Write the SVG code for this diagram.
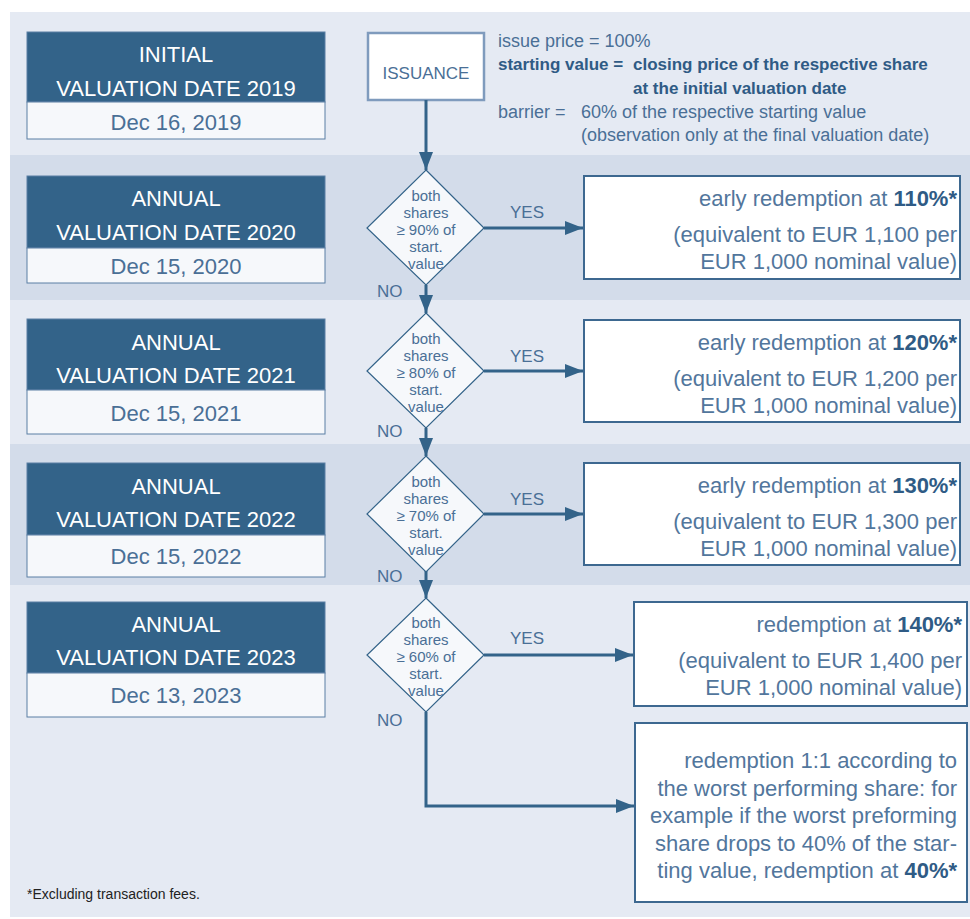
<svg xmlns="http://www.w3.org/2000/svg" width="970" height="919" viewBox="0 0 970 919">
<defs>
<marker id="ah" markerUnits="userSpaceOnUse" markerWidth="18" markerHeight="14" refX="18" refY="7" orient="auto">
<path d="M0,0 L18,7 L0,14 z" fill="#336389"/>
</marker>
<style>
text{font-family:"Liberation Sans",Arial,sans-serif}
.hd{fill:#336389;stroke:#5b7fa4;stroke-width:1}
.dt{fill:#f6f8fb;stroke:#5b7fa4;stroke-width:1}
.ht{fill:#ffffff;font-size:22px;text-anchor:middle}
.dd{fill:#4a6f96;font-size:22px;text-anchor:middle}
.dia{fill:#f6f8fb;stroke:#336389;stroke-width:1.2}
.dtx{fill:#4a6f96;font-size:15px;text-anchor:middle}
.lbl{fill:#4a6f96;font-size:17px}
.rb{fill:#ffffff;stroke:#3d6890;stroke-width:2}
.rt{fill:#52769c;font-size:22px;text-anchor:end}
.b{font-weight:bold;fill:#2f5b85}
.conn{fill:none;stroke:#336389;stroke-width:3;marker-end:url(#ah)}
.info{fill:#4a6f96;font-size:18px}
.infob{fill:#2f5b85;font-size:17px;font-weight:bold}
</style>
</defs>
<rect x="0" y="0" width="970" height="919" fill="#ffffff"/>
<g id="bands">
<rect x="10" y="12" width="960" height="143" fill="#e5eaf3"/>
<rect x="10" y="155" width="960" height="145" fill="#d3dcea"/>
<rect x="10" y="300" width="960" height="144" fill="#e5eaf3"/>
<rect x="10" y="444" width="960" height="141" fill="#d3dcea"/>
<rect x="10" y="585" width="960" height="332" fill="#e5eaf3"/>
</g>

<g id="date2019">
<rect class="hd" x="27" y="32" width="298" height="70"/>
<rect class="dt" x="27" y="102" width="298" height="37"/>
<text class="ht" x="176" y="62">INITIAL</text>
<text class="ht" x="176" y="96">VALUATION DATE 2019</text>
<text class="dd" x="176" y="130">Dec 16, 2019</text>
</g>
<g id="date2020">
<rect class="hd" x="27" y="176" width="298" height="72"/>
<rect class="dt" x="27" y="248" width="298" height="35"/>
<text class="ht" x="176" y="206">ANNUAL</text>
<text class="ht" x="176" y="240">VALUATION DATE 2020</text>
<text class="dd" x="176" y="274">Dec 15, 2020</text>
</g>
<g id="date2021">
<rect class="hd" x="27" y="319" width="298" height="71"/>
<rect class="dt" x="27" y="390" width="298" height="44"/>
<text class="ht" x="176" y="350">ANNUAL</text>
<text class="ht" x="176" y="383">VALUATION DATE 2021</text>
<text class="dd" x="176" y="421">Dec 15, 2021</text>
</g>
<g id="date2022">
<rect class="hd" x="27" y="463" width="298" height="72"/>
<rect class="dt" x="27" y="535" width="298" height="42"/>
<text class="ht" x="176" y="494">ANNUAL</text>
<text class="ht" x="176" y="527">VALUATION DATE 2022</text>
<text class="dd" x="176" y="564">Dec 15, 2022</text>
</g>
<g id="date2023">
<rect class="hd" x="27" y="602" width="298" height="71"/>
<rect class="dt" x="27" y="673" width="298" height="44"/>
<text class="ht" x="176" y="632">ANNUAL</text>
<text class="ht" x="176" y="665">VALUATION DATE 2023</text>
<text class="dd" x="176" y="703">Dec 13, 2023</text>
</g>

<g id="issuance">
<rect x="368" y="33" width="116" height="67" fill="#ffffff" stroke="#7f9bbd" stroke-width="2.5"/>
<text class="lbl" x="426" y="79" text-anchor="middle">ISSUANCE</text>
</g>

<g id="terms">
<text class="info" x="498" y="47">issue price = 100%</text>
<text class="infob" x="498" y="70">starting value =</text>
<text class="infob" x="633" y="70">closing price of the respective share</text>
<text class="infob" x="633" y="94">at the initial valuation date</text>
<text class="info" x="498" y="118">barrier =</text>
<text class="info" x="581" y="118">60% of the respective starting value</text>
<text class="info" x="581" y="141">(observation only at the final valuation date)</text>
</g>

<g id="connectors">
<path class="conn" d="M426,100 V170"/>
<path class="conn" d="M484,228 H583"/>
<path class="conn" d="M426,285 V313"/>
<path class="conn" d="M484,371 H583"/>
<path class="conn" d="M426,428 V456"/>
<path class="conn" d="M484,514 H583"/>
<path class="conn" d="M426,571 V598"/>
<path class="conn" d="M484,655 H633"/>
<path class="conn" d="M426,712 V806 H634"/>
<text class="lbl" x="510" y="218">YES</text>
<text class="lbl" x="377" y="297">NO</text>
<text class="lbl" x="510" y="362">YES</text>
<text class="lbl" x="377" y="437">NO</text>
<text class="lbl" x="510" y="505">YES</text>
<text class="lbl" x="377" y="582">NO</text>
<text class="lbl" x="510" y="644">YES</text>
<text class="lbl" x="377" y="726">NO</text>
</g>

<g id="cond90">
<polygon class="dia" points="426,170 484,228 426,285 367,228"/>
<text class="dtx" x="426" y="201">both</text>
<text class="dtx" x="426" y="218">shares</text>
<text class="dtx" x="426" y="235">≥ 90% of</text>
<text class="dtx" x="426" y="252">start.</text>
<text class="dtx" x="426" y="269">value</text>
</g>
<g id="cond80">
<polygon class="dia" points="426,313 484,371 426,428 367,371"/>
<text class="dtx" x="426" y="344">both</text>
<text class="dtx" x="426" y="361">shares</text>
<text class="dtx" x="426" y="378">≥ 80% of</text>
<text class="dtx" x="426" y="395">start.</text>
<text class="dtx" x="426" y="412">value</text>
</g>
<g id="cond70">
<polygon class="dia" points="426,456 484,514 426,572 367,514"/>
<text class="dtx" x="426" y="487">both</text>
<text class="dtx" x="426" y="504">shares</text>
<text class="dtx" x="426" y="521">≥ 70% of</text>
<text class="dtx" x="426" y="538">start.</text>
<text class="dtx" x="426" y="555">value</text>
</g>
<g id="cond60">
<polygon class="dia" points="426,598 484,655 426,712 367,655"/>
<text class="dtx" x="426" y="628">both</text>
<text class="dtx" x="426" y="645">shares</text>
<text class="dtx" x="426" y="662">≥ 60% of</text>
<text class="dtx" x="426" y="679">start.</text>
<text class="dtx" x="426" y="696">value</text>
</g>

<g id="result110">
<rect class="rb" x="584" y="176" width="376" height="103"/>
<text class="rt" x="957" y="206">early redemption at <tspan class="b">110%*</tspan></text>
<text class="rt" x="957" y="242">(equivalent to EUR 1,100 per</text>
<text class="rt" x="957" y="269">EUR 1,000 nominal value)</text>
</g>
<g id="result120">
<rect class="rb" x="584" y="320" width="376" height="102"/>
<text class="rt" x="957" y="350">early redemption at <tspan class="b">120%*</tspan></text>
<text class="rt" x="957" y="386">(equivalent to EUR 1,200 per</text>
<text class="rt" x="957" y="413">EUR 1,000 nominal value)</text>
</g>
<g id="result130">
<rect class="rb" x="584" y="463" width="376" height="102"/>
<text class="rt" x="957" y="493">early redemption at <tspan class="b">130%*</tspan></text>
<text class="rt" x="957" y="529">(equivalent to EUR 1,300 per</text>
<text class="rt" x="957" y="556">EUR 1,000 nominal value)</text>
</g>
<g id="result140">
<rect class="rb" x="634" y="602" width="333" height="104"/>
<text class="rt" x="962" y="632">redemption at <tspan class="b">140%*</tspan></text>
<text class="rt" x="962" y="668">(equivalent to EUR 1,400 per</text>
<text class="rt" x="962" y="695">EUR 1,000 nominal value)</text>
</g>
<g id="result1to1">
<rect class="rb" x="635" y="723" width="332" height="179"/>
<text class="rt" x="957" y="768">redemption 1:1 according to</text>
<text class="rt" x="957" y="796">the worst performing share: for</text>
<text class="rt" x="957" y="823">example if the worst preforming</text>
<text class="rt" x="957" y="851">share drops to 40% of the star-</text>
<text class="rt" x="957" y="878">ting value, redemption at <tspan class="b">40%*</tspan></text>
</g>

<g id="footnote">
<text x="27" y="899" font-size="14" fill="#222222">*Excluding transaction fees.</text>
</g>
</svg>
